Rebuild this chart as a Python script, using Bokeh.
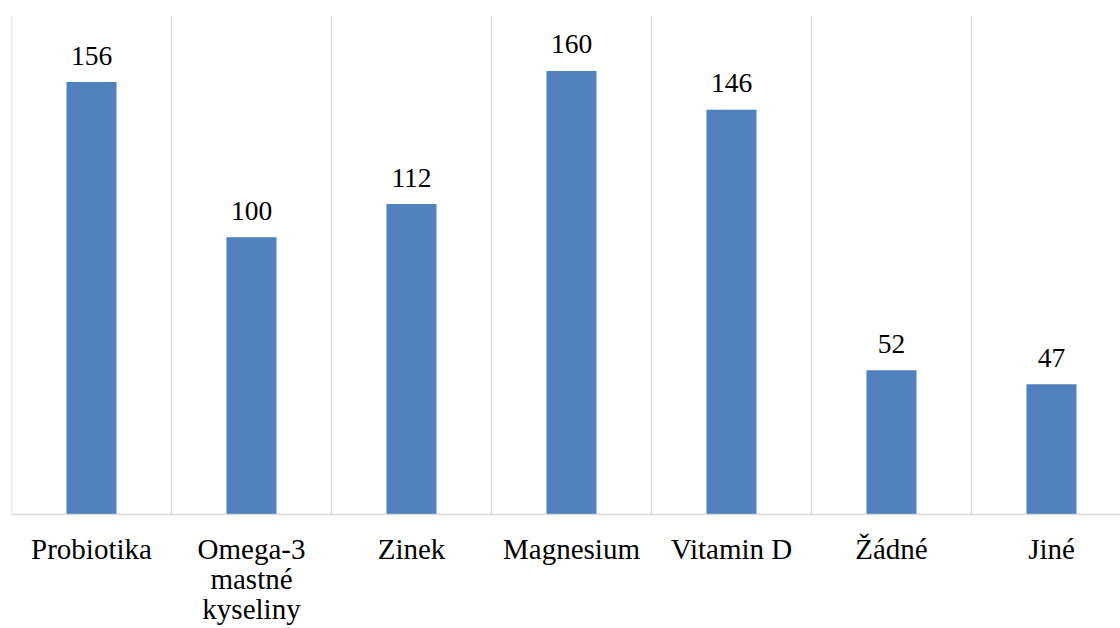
from bokeh.plotting import figure
from bokeh.models import ColumnDataSource, Range1d, Span
from bokeh.core.properties import value
from bokeh.embed import file_html
from bokeh.resources import INLINE

categories = ["Probiotika", "Omega-3\nmastné\nkyseliny", "Zinek", "Magnesium", "Vitamin D", "Žádné", "Jiné"]
counts = [156, 100, 112, 160, 146, 52, 47]
y_max = 180

FONT = "Liberation Serif"
W, H = 1120, 628
LEFT, TOP, PLOT_H, CAT_W = 11, 15, 499, 160
PX_PER_UNIT = PLOT_H / y_max

xs = [i + 0.5 for i in range(len(categories))]
src = ColumnDataSource(dict(x=xs, top=counts, lab=[str(c) for c in counts]))

p = figure(width=W, height=H, output_backend="svg", toolbar_location=None,
           x_range=Range1d(0, (W - LEFT) / CAT_W),
           y_range=Range1d(-(H - TOP - PLOT_H) / PX_PER_UNIT, y_max),
           min_border_left=LEFT, min_border_right=0, min_border_top=TOP, min_border_bottom=0)
p.outline_line_color = None
p.xaxis.visible = False
p.yaxis.visible = False
p.xgrid.visible = False
p.ygrid.visible = False

# category separators
seps = list(range(len(categories) + 1))
p.segment(x0=seps, y0=[0] * len(seps), x1=seps, y1=[y_max] * len(seps),
          line_color="#d9d9d9", line_width=1.5)
p.add_layout(Span(location=0, dimension="width", line_color="#d9d9d9", line_width=1.5))

p.vbar(x="x", top="top", width=0.3125, bottom=0, source=src, color="#4F81BD", line_color=None)
p.text(x="x", y="top", text="lab", source=src, text_align="center", text_baseline="alphabetic",
       y_offset=-26.5, text_font=value(FONT), text_font_size="27.5px", text_color="#000000")

lx, ly, lt = [], [], []
for x, c in zip(xs, categories):
    for i, line in enumerate(c.split("\n")):
        lx.append(x); ly.append(i); lt.append(line)
lsrc = ColumnDataSource(dict(x=lx, line=ly, t=lt, off=[34 + 30 * i for i in ly]))
p.text(x="x", y=0, text="t", source=lsrc, y_offset="off", text_align="center",
       text_baseline="alphabetic", text_font=value(FONT), text_font_size="29px", text_color="#000000")

open("out.html", "w").write(file_html(p, INLINE))
